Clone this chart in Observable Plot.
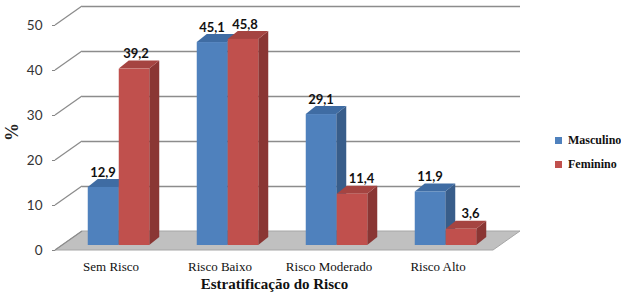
<!DOCTYPE html>
<html>
<head>
<meta charset="utf-8">
<script src="https://cdn.jsdelivr.net/npm/d3@7"></script>
<script src="https://cdn.jsdelivr.net/npm/@observablehq/plot@0.6"></script>
<style>
  body { margin: 0; background: #fff; }
  #chart { position: relative; width: 625px; height: 302px; overflow: hidden; }
  #chart svg { display: block; }
  #legend { position: absolute; left: 555px; top: 133px; font-family: "Liberation Serif", "Times New Roman", serif; }
  #legend div[class$="-swatch"] { margin-bottom: 8px; }
</style>
</head>
<body>
<div id="chart"><div id="legend"></div></div>
<script>
// ---- data ----
const categories = ["Sem Risco", "Risco Baixo", "Risco Moderado", "Risco Alto"];
const series = ["Masculino", "Feminino"];
const masculino = [12.9, 45.1, 29.1, 11.9];
const feminino = [39.2, 45.8, 11.4, 3.6];
const yTicks = [0, 10, 20, 30, 40, 50];
const xTitle = "Estratificação do Risco";
const yTitle = "%";

const frontColors = ["#4F81BD", "#C0504D"];
const topColors = ["#3F6CA3", "#A54441"];
const sideColors = ["#385D8A", "#8A3634"];

const SERIF = "Liberation Serif";

const data = [];
categories.forEach((c, i) => {
  data.push({cat: c, sex: series[0], v: masculino[i], s: 0, lower: false});
  data.push({cat: c, sex: series[1], v: feminino[i], s: 1, lower: feminino[i] < masculino[i]});
});

// ---- 3D styling constants (pixels) ----
const WX = 27, WY = -19;      // depth of the walls / floor
const DX = 8, DY = -5;        // offset of bar fronts inside the depth
const BX = 10, BY = -8;       // bar depth
const INS = [[23.75, 54.75], [54.75, 23.75]]; // [insetLeft, insetRight] per series

const fmt = v => v.toFixed(1).replace(".", ",");

function bandwidthOf(x) {
  if (typeof x.bandwidth === "function") return x.bandwidth();
  return x(categories[1]) - x(categories[0]);
}

// floor + left wall diagonals
function walls(index, scales, values, dims) {
  const g = d3.create("svg:g");
  const y = scales.y;
  const x0 = dims.marginLeft, x1 = dims.width - dims.marginRight, y0 = y(0);
  g.append("path")
    .attr("d", `M${x0},${y0}L${x1},${y0}L${x1 + WX},${y0 + WY}L${x0 + WX},${y0 + WY}Z`)
    .attr("fill", "#c0c0c0").attr("stroke", "#a6a6a6").attr("stroke-width", 1);
  for (const v of yTicks) {
    g.append("line")
      .attr("x1", x0).attr("y1", y(v)).attr("x2", x0 + WX).attr("y2", y(v) + WY)
      .attr("stroke", "#8c8c8c").attr("stroke-width", 1.3);
  }
  return g.node();
}

// bar tops and sides
function barDepth(index, scales, values, dims) {
  const g = d3.create("svg:g");
  const x = scales.x, y = scales.y;
  const bw = bandwidthOf(x);
  for (const s of [0, 1]) {
    for (const d of data.filter(d => d.s === s)) {
      const l = x(d.cat) + INS[s][0] + DX;
      const r = x(d.cat) + bw - INS[s][1] + DX;
      const t = y(d.v) + DY, b = y(0) + DY;
      g.append("path")
        .attr("d", `M${r},${t}L${r + BX},${t + BY}L${r + BX},${b + BY}L${r},${b}Z`)
        .attr("fill", sideColors[s]);
      g.append("path")
        .attr("d", `M${l},${t}L${l + BX},${t + BY}L${r + BX},${t + BY}L${r},${t}Z`)
        .attr("fill", topColors[s]);
    }
  }
  return g.node();
}

const labelStyle = {fontSize: 13, fontWeight: "bold", fontFamily: "Lato", fill: "#111", dy: -20};

const plot = Plot.plot({
  width: 625,
  height: 302,
  marginLeft: 55,
  marginRight: 132,
  marginTop: 25,
  marginBottom: 52,
  x: {domain: categories, padding: 0, axis: null},
  y: {domain: [0, 50], axis: null},
  color: {domain: series, range: frontColors},
  style: {background: "white", overflow: "visible"},
  marks: [
    walls,
    Plot.ruleY(yTicks.filter(v => v > 0), {dx: WX, dy: WY, stroke: "#8c8c8c", strokeWidth: 1.6}),
    Plot.axisY({
      ticks: yTicks, tickSize: 3, tickPadding: 10, line: true,
      stroke: "#868686", fill: "#333", fontSize: 13.5, fontFamily: "Lato", label: null
    }),
    Plot.axisX({
      tickSize: 0, tickPadding: 11, fill: "#111", fontSize: 13,
      fontFamily: SERIF, label: null
    }),
    barDepth,
    ...series.map((name, s) =>
      Plot.barY(data.filter(d => d.s === s), {
        x: "cat", y: "v", fill: "sex",
        insetLeft: INS[s][0], insetRight: INS[s][1], dx: DX, dy: DY
      })
    ),
    Plot.text(data.filter(d => d.s === 0), {
      x: "cat", y: "v", text: d => fmt(d.v), dx: -15.5 + DX - 0.5, ...labelStyle
    }),
    Plot.text(data.filter(d => d.s === 1 && !d.lower), {
      x: "cat", y: "v", text: d => fmt(d.v), dx: 15.5 + DX + 1.5, ...labelStyle
    }),
    Plot.text(data.filter(d => d.s === 1 && d.lower), {
      x: "cat", y: "v", text: d => fmt(d.v), dx: 15.5 + DX + 9, ...labelStyle
    }),
    Plot.text([xTitle], {
      frameAnchor: "bottom", dy: 38, fontSize: 15, fontWeight: "bold",
      fontFamily: SERIF, fill: "#111"
    }),
    Plot.text([yTitle], {
      frameAnchor: "left", dx: -43, dy: 3, rotate: -90, fontSize: 18, fontWeight: "bold",
      fontFamily: SERIF, fill: "#222"
    })
  ]
});

document.getElementById("chart").prepend(plot);

const legend = plot.legend("color", {
  swatchSize: 7, columns: 1,
  style: {fontFamily: SERIF, fontWeight: "bold", fontSize: "12px", color: "#111"}
});
document.getElementById("legend").append(legend);
</script>
</body>
</html>
